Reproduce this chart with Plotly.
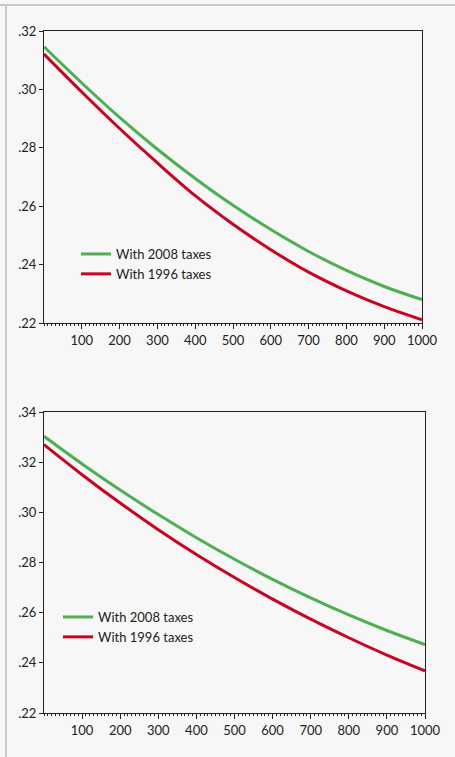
import plotly.graph_objects as go

# ---- data ----
x_vals = [0, 100, 200, 300, 400, 500, 600, 700, 800, 900, 1000]

top_2008 = [0.3146, 0.3022, 0.2904, 0.2795, 0.2695, 0.2603, 0.2520, 0.2445, 0.2380, 0.2325, 0.2280]
top_1996 = [0.3121, 0.2991, 0.2866, 0.2748, 0.2636, 0.2538, 0.2451, 0.2374, 0.2310, 0.2256, 0.2211]

bot_2008 = [0.3303, 0.3193, 0.3089, 0.2991, 0.2899, 0.2813, 0.2733, 0.2659, 0.2591, 0.2529, 0.2473]
bot_1996 = [0.3270, 0.3150, 0.3037, 0.2931, 0.2832, 0.2740, 0.2654, 0.2574, 0.2500, 0.2431, 0.2368]

series_names = ["With 2008 taxes", "With 1996 taxes"]

x_tickvals = [100, 200, 300, 400, 500, 600, 700, 800, 900, 1000]
x_ticktext = ["100", "200", "300", "400", "500", "600", "700", "800", "900", "1000"]

top_y_tickvals = [0.22, 0.24, 0.26, 0.28, 0.30, 0.32]
top_y_ticktext = [".22", ".24", ".26", ".28", ".30", ".32"]
bot_y_tickvals = [0.22, 0.24, 0.26, 0.28, 0.30, 0.32, 0.34]
bot_y_ticktext = [".22", ".24", ".26", ".28", ".30", ".32", ".34"]

GREEN = "#4caf50"
RED = "#cc0020"
W, H = 455, 757
FONT = "Lato"

fig = go.Figure()

fig.add_trace(go.Scatter(x=x_vals, y=top_2008, mode="lines", name=series_names[0],
                         line=dict(color=GREEN, width=3, shape="spline"),
                         xaxis="x", yaxis="y", legend="legend"))
fig.add_trace(go.Scatter(x=x_vals, y=top_1996, mode="lines", name=series_names[1],
                         line=dict(color=RED, width=3, shape="spline"),
                         xaxis="x", yaxis="y", legend="legend"))
fig.add_trace(go.Scatter(x=x_vals, y=bot_2008, mode="lines", name=series_names[0],
                         line=dict(color=GREEN, width=3, shape="spline"),
                         xaxis="x2", yaxis="y2", legend="legend2"))
fig.add_trace(go.Scatter(x=x_vals, y=bot_1996, mode="lines", name=series_names[1],
                         line=dict(color=RED, width=3, shape="spline"),
                         xaxis="x2", yaxis="y2", legend="legend2"))


def px_x(p):
    return p / W


def px_y(p):
    return 1 - p / H


xaxis_common = dict(
    range=[0, 1000], tickvals=x_tickvals, ticktext=x_ticktext,
    ticks="outside", ticklen=5, tickwidth=1, tickcolor="#222",
    minor=dict(dtick=10, tick0=0, ticks="outside", ticklen=2, tickcolor="#222", showgrid=False),
    showline=True, linecolor="#222", linewidth=1, mirror=True,
    showgrid=False, zeroline=False, fixedrange=True, automargin=False,
    tickfont=dict(family=FONT, size=13, color="#222"),
)
yaxis_common = dict(
    ticks="outside", ticklen=4, tickwidth=1, tickcolor="#222",
    showline=True, linecolor="#222", linewidth=1, mirror=True,
    showgrid=False, zeroline=False, fixedrange=True, automargin=False,
    tickfont=dict(family=FONT, size=13, color="#222"),
)

fig.update_layout(
    width=W, height=H,
    margin=dict(l=0, r=0, t=0, b=0, autoexpand=False),
    paper_bgcolor="#f7f7f7", plot_bgcolor="#f7f7f7",
    font=dict(family=FONT, size=12, color="#222"),
    xaxis=dict(domain=[px_x(44), px_x(422)], anchor="y", **xaxis_common),
    yaxis=dict(domain=[px_y(323), px_y(31)], anchor="x", range=[0.22, 0.32],
               tickvals=top_y_tickvals, ticktext=top_y_ticktext, **yaxis_common),
    xaxis2=dict(domain=[px_x(44), px_x(425)], anchor="y2", **xaxis_common),
    yaxis2=dict(domain=[px_y(713), px_y(412)], anchor="x2", range=[0.22, 0.34],
                tickvals=bot_y_tickvals, ticktext=bot_y_ticktext, **yaxis_common),
    legend=dict(x=px_x(76), y=px_y(239), xanchor="left", yanchor="top",
                bgcolor="rgba(0,0,0,0)", font=dict(family=FONT, size=13, color="#222"),
                itemwidth=30, tracegroupgap=0),
    legend2=dict(x=px_x(58), y=px_y(602), xanchor="left", yanchor="top",
                 bgcolor="rgba(0,0,0,0)", font=dict(family=FONT, size=13, color="#222"),
                 itemwidth=30, tracegroupgap=0),
    shapes=[
        dict(type="line", xref="paper", yref="paper", x0=0, x1=1, y0=px_y(5), y1=px_y(5),
             line=dict(color="#c8c8c8", width=2)),
        dict(type="line", xref="paper", yref="paper", x0=px_x(6), x1=px_x(6), y0=0, y1=px_y(5),
             line=dict(color="#c8c8c8", width=2)),
    ],
)

fig.write_html("out.html", config={"displayModeBar": False},
               post_script="document.body.style.margin='0';document.body.style.overflow='hidden';")
